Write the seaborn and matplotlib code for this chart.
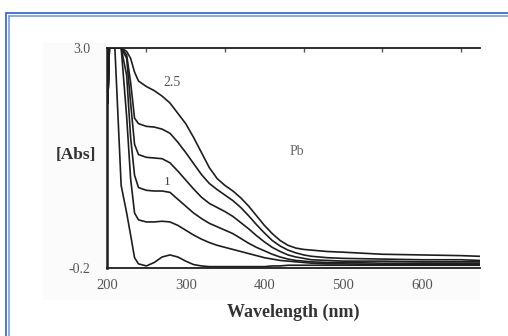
import matplotlib
matplotlib.use("Agg")
import matplotlib.pyplot as plt
from matplotlib.lines import Line2D
from matplotlib.patches import Rectangle
import numpy as np
import pandas as pd
import seaborn as sns

# ---- data ----
wavelength = [201, 203, 210, 218, 225, 230, 235, 240, 250, 260, 270, 280, 290, 300,
              310, 320, 330, 340, 350, 360, 370, 380, 390, 400, 410, 420, 430, 440,
              450, 460, 480, 500, 550, 600, 650, 674]

curve_25 = [2.2, 3.0, 3.0, 3.0, 2.95, 2.85, 2.65, 2.52, 2.44, 2.38, 2.3, 2.2, 2.05, 1.9,
            1.7, 1.48, 1.26, 1.1, 1.0, 0.92, 0.82, 0.7, 0.56, 0.42, 0.3, 0.2, 0.13, 0.09,
            0.07, 0.06, 0.04, 0.03, 0.0, -0.01, -0.02, -0.03]
curve_b = [2.2, 3.0, 3.0, 3.0, 2.9, 2.5, 1.98, 1.9, 1.86, 1.85, 1.82, 1.76, 1.63, 1.48,
           1.32, 1.16, 1.03, 0.94, 0.86, 0.78, 0.68, 0.56, 0.43, 0.31, 0.2, 0.12, 0.06, 0.02,
           -0.01, -0.03, -0.05, -0.06, -0.07, -0.08, -0.08, -0.09]
curve_c = [2.2, 3.0, 3.0, 3.0, 2.85, 2.2, 1.6, 1.45, 1.41, 1.40, 1.39, 1.33, 1.21, 1.08,
           0.95, 0.83, 0.74, 0.68, 0.62, 0.55, 0.46, 0.37, 0.27, 0.18, 0.1, 0.04, -0.01, -0.04,
           -0.06, -0.08, -0.09, -0.1, -0.1, -0.11, -0.11, -0.11]
curve_1 = [2.2, 3.0, 3.0, 3.0, 2.6, 1.7, 1.15, 0.97, 0.93, 0.92, 0.92, 0.9, 0.8, 0.7,
           0.6, 0.52, 0.45, 0.4, 0.35, 0.3, 0.23, 0.16, 0.1, 0.05, 0.0, -0.04, -0.07, -0.09,
           -0.1, -0.11, -0.12, -0.12, -0.13, -0.13, -0.13, -0.13]
curve_e = [2.2, 3.0, 3.0, 3.0, 2.0, 1.1, 0.6, 0.5, 0.47, 0.47, 0.48, 0.47, 0.42, 0.35,
           0.28, 0.22, 0.17, 0.13, 0.1, 0.07, 0.04, 0.01, -0.02, -0.05, -0.07, -0.09, -0.1, -0.11,
           -0.12, -0.13, -0.14, -0.14, -0.15, -0.15, -0.15, -0.15]
curve_f = [2.2, 3.0, 3.0, 1.0, 0.6, 0.28, -0.05, -0.14, -0.17, -0.12, -0.04, -0.01, -0.04, -0.1,
           -0.15, -0.17, -0.18, -0.18, -0.18, -0.18, -0.18, -0.18, -0.18, -0.18, -0.17, -0.17, -0.16, -0.16,
           -0.16, -0.16, -0.16, -0.16, -0.16, -0.16, -0.16, -0.16]

curve_names = ["2.5", "b", "c", "1", "e", "f"]
curves = [curve_25, curve_b, curve_c, curve_1, curve_e, curve_f]

x_ticks = [200, 300, 400, 500, 600]
x_tick_labels = ["200", "300", "400", "500", "600"]
y_ticks = [-0.2, 0.44, 1.08, 1.72, 2.36, 3.0]
y_tick_labels = ["-0.2", "", "", "", "", "3.0"]

df = pd.concat(
    [pd.DataFrame({"wl": wavelength, "abs": vals, "curve": name})
     for name, vals in zip(curve_names, curves)],
    ignore_index=True,
)

sns.set_style("white")
plt.rcParams["font.family"] = ["Liberation Serif", "DejaVu Serif"]

W, H = 508, 336
fig = plt.figure(figsize=(W / 100, H / 100), dpi=100)
fig.patch.set_facecolor("white")

# very faint scan background
fig.add_artist(Rectangle((43 / W, 1 - 300 / H), (480 - 43) / W, (300 - 43) / H,
                         transform=fig.transFigure, facecolor="#fbfbfb",
                         edgecolor="none", zorder=0))

ax = fig.add_axes([107 / W, 1 - 268 / H, (480 - 107) / W, (268 - 48) / H])
ax.set_facecolor("white")

sns.lineplot(data=df, x="wl", y="abs", hue="curve", units="curve", estimator=None,
             palette=["#1e1e1e"] * len(curve_names), legend=False, linewidth=1.2,
             sort=False, ax=ax)

ax.set_xlim(200, 674)
ax.set_ylim(-0.2, 3.0)

for s in ["left", "bottom", "top"]:
    ax.spines[s].set_visible(True)
    ax.spines[s].set_color("#1e1e1e")
ax.spines["left"].set_linewidth(1.8)
ax.spines["top"].set_linewidth(1.3)
ax.spines["bottom"].set_linewidth(1.3)
ax.spines["right"].set_visible(False)

ax.set_xticks(x_ticks)
ax.set_xticklabels(x_tick_labels, fontsize=10.5, color="#555555")
ax.set_yticks(y_ticks)
ax.set_yticklabels(y_tick_labels, fontsize=10, color="#555555")
ax.tick_params(axis="x", direction="in", length=0, pad=8)
ax.tick_params(axis="y", direction="in", length=3, width=1, color="#555555", pad=12)
ax.set_xticks(np.arange(250, 675, 50), minor=True)
ax.tick_params(axis="x", which="minor", top=True, bottom=False, direction="in",
               length=3, width=1, color="#555555")

ax.set_xlabel("Wavelength (nm)", fontsize=13, fontweight="bold", color="#333333",
              labelpad=8)
ax.set_ylabel("")
fig.text(76 / W, 1 - 155 / H, "[Abs]", fontsize=12.5, fontweight="bold",
         color="#333333", ha="center", va="center")

ax.text(441, 1.49, "Pb", fontsize=10, color="#666666", ha="center", va="center")
ax.text(282, 2.5, "2.5", fontsize=10, color="#555555", ha="center", va="center")
ax.text(276, 1.05, "1", fontsize=9.5, color="#444444", ha="center", va="center")

# blue double frame
outer = "#3f6bcb"
inner = "#6a94e2"
fig.add_artist(Line2D([6 / W, 1], [1 - 12.5 / H, 1 - 12.5 / H], transform=fig.transFigure,
                      color=outer, lw=1.3))
fig.add_artist(Line2D([6 / W, 6 / W], [0, 1 - 12.5 / H], transform=fig.transFigure,
                      color=outer, lw=1.3))
fig.add_artist(Line2D([9 / W, 1], [1 - 15.5 / H, 1 - 15.5 / H], transform=fig.transFigure,
                      color=inner, lw=1.1))
fig.add_artist(Line2D([9 / W, 9 / W], [0, 1 - 15.5 / H], transform=fig.transFigure,
                      color=inner, lw=1.1))

fig.savefig("out.png", dpi=100)
